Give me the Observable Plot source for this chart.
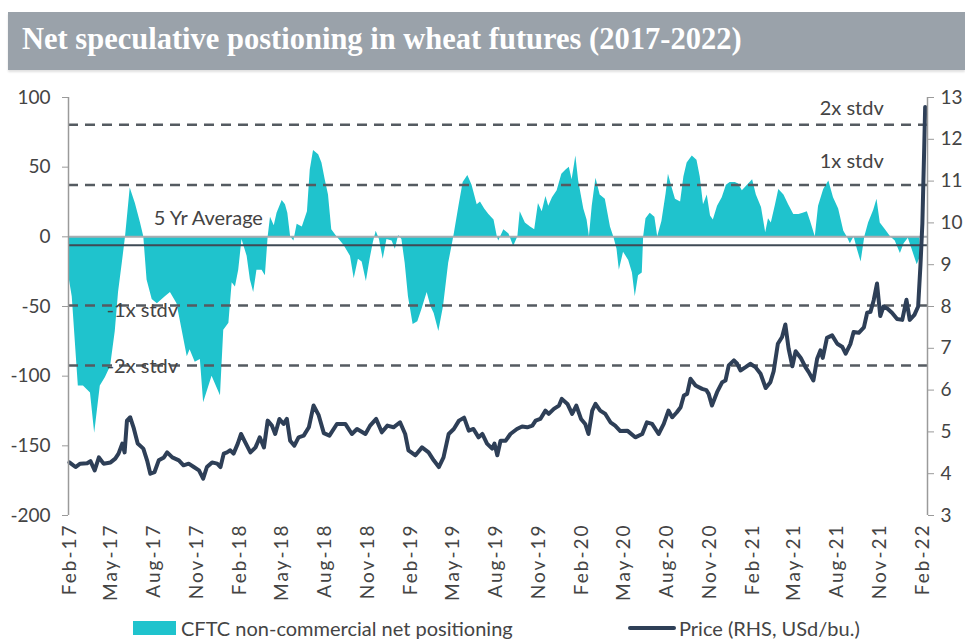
<!DOCTYPE html>
<html>
<head>
<meta charset="utf-8">
<script src="https://cdn.jsdelivr.net/npm/d3@7"></script>
<script src="https://cdn.jsdelivr.net/npm/@observablehq/plot@0.6"></script>
<style>
  body { margin: 0; background: #fff; font-family: Lato, "Noto Sans", sans-serif; }
  #wrap { position: relative; width: 965px; height: 640px; overflow: hidden; background: #fff; }
  #title { position: absolute; left: 8px; top: 12px; width: 957px; height: 58px; background: #9aa2aa; box-shadow: 0 2px 2px rgba(0,0,0,0.12); }
  #title span { position: absolute; left: 14px; top: 10px; font-family: "Liberation Serif", serif; font-weight: bold; font-size: 30.5px; color: #fff; white-space: nowrap; }
  #chart { position: absolute; left: 0; top: 80px; }
  .lg { position: absolute; font-size: 20px; color: #444; white-space: nowrap; line-height: 24px; }
  .sw { position: absolute; }
</style>
</head>
<body>
<div id="wrap">
  <div id="title"><span id="titleText"></span></div>
  <div id="chart"></div>
  <div class="sw" id="sw1" style="left:133px;top:621px;width:43px;height:14px;background:#1fc3cd"></div>
  <div class="lg" id="lg1" style="left:181px;top:616px"></div>
  <div class="sw" id="sw2" style="left:628px;top:626px;width:48px;height:4px;border-radius:2px;background:#2e3f57"></div>
  <div class="lg" id="lg2" style="left:679px;top:616px"></div>
</div>
<script>
const titleText = "Net speculative postioning in wheat futures (2017-2022)";
const seriesNames = ["CFTC non-commercial net positioning", "Price (RHS, USd/bu.)"];

// CFTC non-commercial net positioning (thousand contracts)
const positioningDates = [
"2017-02-01","2017-02-07","2017-02-20","2017-03-03","2017-03-18","2017-03-27","2017-04-08","2017-04-19","2017-04-30","2017-05-10",
"2017-05-17","2017-05-25","2017-06-01","2017-06-11","2017-06-22","2017-07-03","2017-07-10","2017-07-17","2017-07-28","2017-08-08",
"2017-08-25","2017-09-05","2017-09-19","2017-09-30","2017-10-11","2017-10-17","2017-10-28","2017-11-08","2017-11-15","2017-12-03",
"2017-12-21","2017-12-28","2018-01-08","2018-01-15","2018-01-22","2018-01-29","2018-02-05","2018-02-16","2018-02-23","2018-03-02",
"2018-03-09","2018-03-20","2018-03-27","2018-04-02","2018-04-07","2018-04-15","2018-04-21","2018-05-02","2018-05-09","2018-05-14",
"2018-05-20","2018-05-27","2018-06-03","2018-06-14","2018-06-25","2018-07-01","2018-07-08","2018-07-19","2018-07-26","2018-08-02",
"2018-08-09","2018-08-16","2018-08-27","2018-09-11","2018-09-25","2018-10-03","2018-10-12","2018-10-20","2018-10-29","2018-11-06",
"2018-11-13","2018-11-19","2018-11-26","2018-12-04","2018-12-12","2018-12-23","2018-12-30","2019-01-06","2019-01-13","2019-01-20",
"2019-01-27","2019-02-06","2019-02-16","2019-02-25","2019-03-08","2019-03-16","2019-03-23","2019-04-02","2019-04-12","2019-04-23",
"2019-05-04","2019-05-15","2019-05-24","2019-06-03","2019-06-12","2019-06-23","2019-06-30","2019-07-09","2019-07-18","2019-07-29",
"2019-08-05","2019-08-08","2019-08-19","2019-08-30","2019-09-09","2019-09-18","2019-09-23","2019-10-04","2019-10-15","2019-10-24",
"2019-11-01","2019-11-09","2019-11-17","2019-11-23","2019-12-01","2019-12-11","2019-12-21","2019-12-30","2020-01-06","2020-01-12",
"2020-01-20","2020-01-26","2020-02-06","2020-02-13","2020-02-18","2020-02-24","2020-03-03","2020-03-12","2020-03-23","2020-04-03",
"2020-04-10","2020-04-17","2020-04-22","2020-05-01","2020-05-12","2020-05-20","2020-05-26","2020-06-02","2020-06-10","2020-06-13",
"2020-06-18","2020-06-27","2020-07-07","2020-07-13","2020-07-22","2020-07-31","2020-08-05","2020-08-13","2020-08-20","2020-08-31",
"2020-09-07","2020-09-14","2020-09-25","2020-10-05","2020-10-12","2020-10-19","2020-10-27","2020-11-03","2020-11-09","2020-11-18",
"2020-11-28","2020-12-07","2020-12-15","2020-12-26","2021-01-02","2021-01-10","2021-01-21","2021-02-01","2021-02-09","2021-02-20",
"2021-03-01","2021-03-07","2021-03-13","2021-03-22","2021-03-29","2021-04-09","2021-04-19","2021-04-30","2021-05-11","2021-05-20",
"2021-05-29","2021-06-05","2021-06-15","2021-06-22","2021-07-03","2021-07-14","2021-07-24","2021-08-04","2021-08-15","2021-08-22",
"2021-08-29","2021-09-06","2021-09-13","2021-09-21","2021-09-29","2021-10-07","2021-10-18","2021-10-25","2021-11-01","2021-11-12",
"2021-11-23","2021-12-03","2021-12-14","2021-12-22","2021-12-31","2022-01-08","2022-01-19","2022-01-25"
];
const positioningValues = [
-31,-43,-107,-107,-112,-141,-107,-101,-93,-68,
-40,-19,0,35,24,10,0,-31,-45,-48,
-43,-40,-48,-67,-86,-81,-90,-88,-119,-100,
-114,-67,-62,-33,-36,-24,-2,-14,-31,-40,
-24,-24,-28,0,14,8,17,26,23,17,
0,-3,9,7,18,48,62,59,53,41,
30,5,0,-6,-14,-30,-16,-18,-32,-16,
-4,4,-2,-16,-2,-3,-9,1,-2,-19,
-43,-63,-61,-52,-40,-50,-55,-68,-50,-19,
0,22,39,44,37,23,25,20,16,12,
0,-3,5,2,-7,0,18,10,7,5,
24,18,29,22,28,33,45,48,50,41,
58,40,20,12,0,22,42,30,27,7,
0,-9,-24,-11,-17,-26,-43,-28,-26,0,
13,17,14,0,11,31,45,35,27,25,
43,53,58,55,43,23,30,15,12,22,
28,37,39,39,38,33,37,41,30,21,
3,13,10,23,34,30,23,16,16,17,
18,11,0,22,34,40,28,20,4,0,
-5,0,-9,-18,0,10,19,27,10,5,
0,-3,-12,-5,-1,-9,-20,-15
];

// Wheat price (USd/bu., right-hand scale)
const priceDates = [
"2017-02-01","2017-02-14","2017-02-24","2017-03-11","2017-03-18","2017-03-27","2017-04-05","2017-04-15","2017-04-30","2017-05-10",
"2017-05-17","2017-05-25","2017-05-30","2017-06-04","2017-06-11","2017-06-18","2017-06-27","2017-07-09","2017-07-17","2017-07-24",
"2017-08-02","2017-08-11","2017-08-22","2017-08-29","2017-09-09","2017-09-23","2017-10-03","2017-10-14","2017-10-25","2017-11-05",
"2017-11-14","2017-11-22","2017-12-03","2017-12-14","2017-12-21","2017-12-28","2018-01-04","2018-01-11","2018-01-18","2018-01-27",
"2018-02-03","2018-02-12","2018-02-23","2018-03-06","2018-03-15","2018-03-24","2018-04-01","2018-04-10","2018-04-17","2018-04-26",
"2018-05-05","2018-05-12","2018-05-19","2018-05-28","2018-06-06","2018-06-17","2018-06-28","2018-07-08","2018-07-19","2018-07-30",
"2018-08-11","2018-08-27","2018-09-14","2018-09-28","2018-10-09","2018-10-27","2018-11-06","2018-11-19","2018-12-01","2018-12-13",
"2018-12-26","2019-01-09","2019-01-20","2019-01-27","2019-02-11","2019-02-25","2019-03-11","2019-03-22","2019-04-02","2019-04-12",
"2019-04-23","2019-05-04","2019-05-15","2019-05-26","2019-06-05","2019-06-15","2019-06-26","2019-07-04","2019-07-14","2019-07-25",
"2019-07-30","2019-08-05","2019-08-12","2019-08-23","2019-09-02","2019-09-16","2019-09-27","2019-10-08","2019-10-19","2019-10-26",
"2019-11-05","2019-11-16","2019-11-23","2019-12-04","2019-12-15","2019-12-21","2020-01-02","2020-01-12","2020-01-21","2020-01-31",
"2020-02-09","2020-02-16","2020-02-24","2020-03-02","2020-03-12","2020-03-23","2020-04-03","2020-04-13","2020-04-24","2020-05-09",
"2020-05-26","2020-06-10","2020-06-20","2020-07-01","2020-07-15","2020-07-26","2020-08-05","2020-08-13","2020-08-23","2020-08-31",
"2020-09-07","2020-09-14","2020-09-21","2020-10-02","2020-10-16","2020-10-25","2020-10-30","2020-11-06","2020-11-17","2020-11-28",
"2020-12-05","2020-12-12","2020-12-23","2020-12-30","2021-01-06","2021-01-17","2021-01-27","2021-02-07","2021-02-18","2021-03-01",
"2021-03-11","2021-03-18","2021-03-27","2021-04-05","2021-04-12","2021-04-19","2021-04-27","2021-05-04","2021-05-15","2021-05-25",
"2021-06-01","2021-06-11","2021-06-19","2021-06-26","2021-07-01","2021-07-10","2021-07-21","2021-08-01","2021-08-12","2021-08-19",
"2021-08-29","2021-09-05","2021-09-16","2021-09-27","2021-10-04","2021-10-11","2021-10-18","2021-10-25","2021-11-01","2021-11-08",
"2021-11-16","2021-11-26","2021-12-07","2021-12-18","2021-12-27","2022-01-03","2022-01-13","2022-01-21","2022-01-26","2022-01-30",
"2022-02-03","2022-02-05"
];
const priceValues = [
4.27,4.16,4.24,4.25,4.30,4.08,4.39,4.24,4.27,4.36,
4.48,4.72,4.51,5.27,5.35,5.11,4.72,4.60,4.32,4.00,
4.04,4.32,4.39,4.51,4.39,4.32,4.20,4.24,4.16,4.08,
3.88,4.16,4.27,4.24,4.16,4.48,4.51,4.56,4.48,4.72,
4.95,4.75,4.51,4.63,4.87,4.63,5.27,5.15,4.95,5.31,
5.19,5.31,4.79,4.67,4.87,4.91,5.11,5.63,5.40,4.97,
4.91,5.19,5.19,4.95,5.07,4.95,5.15,5.31,4.99,5.15,
5.11,5.23,4.95,4.56,4.44,4.63,4.51,4.32,4.16,4.39,
4.95,5.07,5.27,5.34,5.03,5.07,4.87,4.95,4.72,4.60,
4.72,4.44,4.79,4.79,4.95,5.07,5.13,5.11,5.15,5.27,
5.31,5.51,5.43,5.55,5.63,5.79,5.67,5.43,5.63,5.31,
5.19,4.95,5.51,5.67,5.51,5.43,5.23,5.15,5.02,5.03,
4.87,4.95,5.23,5.19,4.95,5.19,5.51,5.35,5.47,5.59,
5.87,5.91,6.27,6.11,6.03,6.00,5.91,5.63,5.95,6.19,
6.23,6.59,6.71,6.63,6.47,6.55,6.63,6.55,6.39,6.05,
6.19,6.45,7.11,7.27,7.57,6.99,6.57,6.93,6.77,6.55,
6.43,6.23,6.75,6.95,6.77,7.25,7.31,7.11,7.03,6.87,
7.10,7.39,7.37,7.50,7.85,7.87,8.15,8.55,7.77,8.00,
7.95,7.85,7.70,7.68,8.16,7.68,7.80,8.00,9.00,9.98,
11.80,12.77
];

// Reference levels (5 yr average and standard deviation bands)
const avgLevel = -6;
const bandLevels = [80.4, 37.2, -49.2, -92.4];
const bandLabels = ["2x stdv", "1x stdv", "-1x stdv", "-2x stdv"];
const avgLabel = "5 Yr Average";

// Axis ticks
const leftTicks = [-200, -150, -100, -50, 0, 50, 100];
const priceTicks = [3, 4, 5, 6, 7, 8, 9, 10, 11, 12, 13];
const xTickLabels = ["Feb-17","May-17","Aug-17","Nov-17","Feb-18","May-18","Aug-18","Nov-18","Feb-19","May-19","Aug-19","Nov-19",
  "Feb-20","May-20","Aug-20","Nov-20","Feb-21","May-21","Aug-21","Nov-21","Feb-22"];

const parseISO = d3.utcParse("%Y-%m-%d");
const parseTick = d3.utcParse("%b-%y");
const xTicks = xTickLabels.map(parseTick);
const positioning = positioningDates.map((d, i) => ({date: parseISO(d), value: positioningValues[i]}));
const price = priceDates.map((d, i) => ({date: parseISO(d), price: priceValues[i]}));

// map price (3..13) onto the left scale (-200..100)
const pMin = 3, pMax = 13, yMin = -200, yMax = 100;
const toLeft = p => yMin + (p - pMin) * (yMax - yMin) / (pMax - pMin);
const fromLeft = v => Math.round(pMin + (v - yMin) * (pMax - pMin) / (yMax - yMin));

const xDomain = [parseISO("2017-01-30"), parseISO("2022-02-10")];

const labelRight = parseISO("2021-09-01");
const labelLeft = parseISO("2017-07-07");

const plot = Plot.plot({
  width: 965,
  height: 530,
  marginLeft: 68,
  marginRight: 38,
  marginTop: 17,
  marginBottom: 95,
  style: {fontFamily: "Lato, 'Noto Sans', sans-serif", fontSize: "19px", color: "#444", background: "transparent", overflow: "visible"},
  x: {type: "utc", domain: xDomain, label: null},
  y: {domain: [yMin, yMax], label: null},
  marks: [
    Plot.areaY(positioning, {x: "date", y: "value", fill: "#1fc3cd", curve: "linear"}),
    Plot.ruleY([0], {stroke: "#a9adb1", strokeWidth: 2}),
    Plot.ruleY([avgLevel], {stroke: "#3f4a55", strokeWidth: 2}),
    Plot.ruleY(bandLevels, {stroke: "#555b61", strokeWidth: 2.5, strokeDasharray: "10,7"}),
    Plot.line(price, {x: "date", y: d => toLeft(d.price), stroke: "#2e3f57", strokeWidth: 4, strokeLinejoin: "round"}),
    Plot.ruleX([xDomain[0]], {stroke: "#9a9a9a", strokeWidth: 1.5}),
    Plot.ruleX([xDomain[1]], {stroke: "#9a9a9a", strokeWidth: 1.5}),
    Plot.axisY(leftTicks, {anchor: "left", label: null, tickSize: 6, tickPadding: 12, stroke: "#9a9a9a", fill: "#444", tickFormat: d => String(d)}),
    Plot.axisY(priceTicks.map(toLeft), {anchor: "right", label: null, tickSize: 6, tickPadding: 7, stroke: "#9a9a9a", fill: "#444", tickFormat: v => String(fromLeft(v))}),
    Plot.axisX(xTicks, {anchor: "bottom", label: null, tickRotate: -90, tickSize: 0, tickPadding: 8, fill: "#444", tickFormat: d3.utcFormat("%b-%y")}),
    Plot.text([avgLabel], {x: parseISO("2017-11-25"), y: avgLevel, dy: -27, text: d => d, fill: "#444", fontSize: 20}),
    Plot.text([bandLabels[0]], {x: labelRight, y: bandLevels[0], dy: -16, text: d => d, fill: "#444", fontSize: 20}),
    Plot.text([bandLabels[1]], {x: labelRight, y: bandLevels[1], dy: -23, text: d => d, fill: "#444", fontSize: 20}),
    Plot.text([bandLabels[2]], {x: labelLeft, y: bandLevels[2], dy: 5, text: d => d, fill: "#444", fontSize: 20}),
    Plot.text([bandLabels[3]], {x: labelLeft, y: bandLevels[3], dy: 1, text: d => d, fill: "#444", fontSize: 20})
  ]
});
document.getElementById("chart").appendChild(plot);
document.getElementById("titleText").textContent = titleText;
document.getElementById("lg1").textContent = seriesNames[0];
document.getElementById("lg2").textContent = seriesNames[1];
plot.querySelectorAll('[aria-label="x-axis tick label"] text').forEach(t => {
  t.style.letterSpacing = "2px";
});
</script>
</body>
</html>
